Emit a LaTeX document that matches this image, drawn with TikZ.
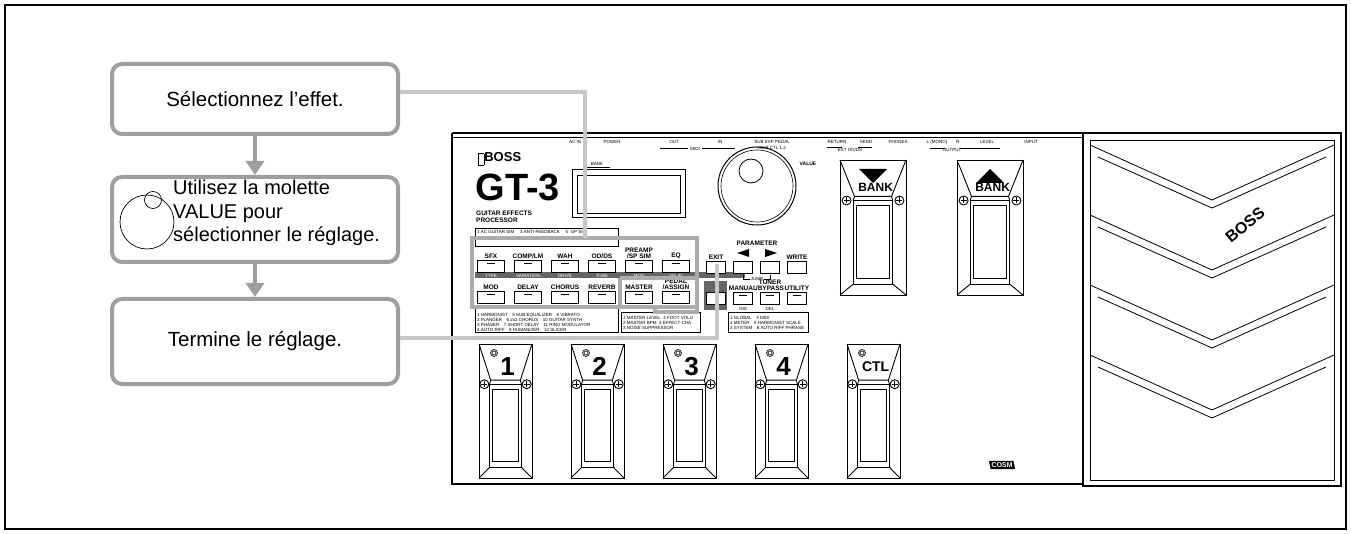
\documentclass[tikz,border=0pt]{standalone}
\usepackage{fontspec}
\usetikzlibrary{arrows.meta}
\setmainfont{Liberation Sans}
\begin{document}
\begin{tikzpicture}[x=1pt,y=-1pt,
  callout/.style={draw=gray!75,line width=4pt,rounded corners=10pt,fill=white,minimum width=286pt,anchor=north west},
  flowarrow/.style={gray!75,line width=4pt,-{Triangle[length=14pt,width=18pt]}},
  lead/.style={gray!45,line width=3.5pt},
  grp/.style={draw=gray!65,line width=4pt},
  btn/.style={draw,line width=1pt,fill=white,minimum width=27pt,minimum height=12pt,inner sep=0pt},
  blab/.style={font=\bfseries\fontsize{6.5}{6.5}\selectfont,align=center,inner sep=0pt},
  tiny/.style={font=\fontsize{4.5}{5}\selectfont,inner sep=0pt},
  dev/.style={line width=0.8pt}]
\useasboundingbox (0,0) rectangle (1351,534);
\draw[line width=2pt] (5,5) rectangle (1346,529);

% ----- device
\draw[line width=1.5pt] (452,133) -- (1083,133);
\draw[line width=0.8pt] (452,137) -- (1083,137);
\draw[line width=1.5pt] (452,133) -- (452,484) -- (1083,484);
\draw[line width=1.2pt] (1083,133) rectangle (1341,486);
\draw[line width=0.8pt] (1090,140) rectangle (1334,480);
\foreach \yy in {145,215,285,355}{
  \draw[dev] (1090,\yy) -- (1212,\yy+55) -- (1334,\yy);
  \draw[dev] (1098,\yy+12) -- (1212,\yy+63) -- (1326,\yy+12);}
\node[rotate=40,font=\bfseries\fontsize{16}{16}\selectfont,fill=white,inner sep=1pt] (bosslogo2) at (1245,225) {BOSS};
% top labels
\foreach \xx/\tt in {575/AC IN,612/POWER,674/OUT,720/IN,772/SUB EXP PEDAL,837/RETURN,866/SEND,898/PHONES,937/L (MONO),958/R,987/LEVEL,1031/INPUT}
  \node[tiny] at (\xx,142) {\tt};
\node[tiny] at (772,148) {/SUB CTL 1,2};
\node[tiny] at (695,149) {MIDI};
\node[tiny] at (850,150) {EXT OD/DS};
\node[tiny] at (952,150) {OUTPUT};
\draw[line width=0.5pt] (660,148)--(688,148) (702,148)--(735,148) (827,147)--(842,147) (858,147)--(872,147) (930,148)--(945,148) (960,148)--(1000,148);
% logo
\node[anchor=west,font=\bfseries\fontsize{13}{13}\selectfont] (boss) at (474,159) {\framebox{\rule{0pt}{5pt}}BOSS};
\node[anchor=west,font=\bfseries\fontsize{38}{38}\selectfont] (gt3) at (472,187) {GT-3};
\node[anchor=north west,align=left,font=\bfseries\fontsize{6.5}{7}\selectfont,inner sep=0pt] (gep) at (476,211) {GUITAR EFFECTS\\PROCESSOR};
\node[tiny] at (597,164) {BANK};
\draw[line width=0.5pt] (585,167)--(610,167);
\draw[line width=1pt] (572,170) rectangle (685,218);
\draw[line width=0.5pt] (577,175) rectangle (680,213);
% value knob
\draw[line width=1pt] (757,186) circle (39);
\draw[line width=0.6pt] (757,186) circle (36);
\draw[line width=0.8pt] (751,171) circle (12);
\node[font=\bfseries\fontsize{5}{5}\selectfont,inner sep=0pt] at (808,164) {VALUE};
% effect list box
\draw[line width=0.5pt] (475,228) rectangle (618,246);
\node[tiny,anchor=west] at (477,232) {1 AC GUITAR SIM \quad 3 ANTI-FEEDBACK \quad 5 \ GP SIM};
% button rows
\fill[gray!80!black] (475,272) rectangle (745,278);
\foreach \i/\la/\lb in {0/SFX/TYPE,1/{COMP/LM}/VARIATION,2/WAH/DRIVE,3/{OD/DS}/TONE,4/{PREAMP\\/SP SIM}/MOD,5/EQ/DELAY}{
  \node[btn] (b1\i) at (491+37*\i,267) {};
  \draw (487+37*\i,263)--(495+37*\i,263);
  \node[blab,anchor=south] at (491+37*\i,259) {\la};
  \node[tiny,text=white] at (491+37*\i,275.5) {\lb};}
\foreach \i/\la in {0/MOD,1/DELAY,2/CHORUS,3/REVERB,4/MASTER,5/{PEDAL\\/ASSIGN}}{
  \node[btn] (b2\i) at (491+37*\i,298) {};
  \draw (487+37*\i,294)--(495+37*\i,294);
  \node[blab,anchor=south] at (491+37*\i,290) {\la};}
\fill[gray!80!black] (704,281) rectangle (727,310);
\node[btn,minimum width=19pt] (exit) at (716,268) {};
\node[blab,anchor=south] at (716,260) {EXIT};
\node[btn,minimum width=19pt] (ex2) at (716,299) {};
\foreach \i/\la in {0/,1/,2/WRITE}{
  \node[btn,minimum width=19pt] (p\i) at (743+27*\i,268) {};
  \node[blab,anchor=south] at (743+27*\i,260) {\la};}
\node[blab] at (757,243) {PARAMETER};
\fill (737,253)--(749,249)--(749,257)--cycle;
\fill (777,253)--(765,249)--(765,257)--cycle;
\draw[line width=0.5pt] (743,275)--(743,279)--(770,279)--(770,275);
\node[tiny,fill=white,inner sep=0.5pt] at (757,279) {JUMP};
\foreach \i/\la/\lc in {0/MANUAL/INS,1/{TUNER\\/BYPASS}/DEL,2/UTILITY/}{
  \node[btn,minimum width=19pt] (m\i) at (743+27*\i,299) {};
  \draw (739+27*\i,295)--(747+27*\i,295);
  \node[blab,anchor=south] at (743+27*\i,291) {\la};
  \node[tiny] at (743+27*\i,309) {\lc};}
% lists
\draw[line width=0.5pt] (475,306) rectangle (618,332) (621,312) rectangle (700,332) (728,312) rectangle (808,332);
\node[tiny,anchor=north west,align=left] at (477,313) {1 HARMONIST\quad 5 SUB EQUALIZER\quad 9 VIBRATO\\2 FLANGER\quad 6 2x2 CHORUS\quad 10 GUITAR SYNTH\\3 PHASER\quad 7 SHORT DELAY\quad 11 RING MODULATOR\\4 AUTO RIFF\quad 8 HUMANIZER\quad 12 SLICER};
\node[tiny,anchor=north west,align=left] at (623,316) {1 MASTER LEVEL\ \ 4 FOOT VOLU\\2 MASTER BPM\ \ 5 EFFECT CHA\\3 NOISE SUPPRESSOR};
\node[tiny,anchor=north west,align=left] at (730,316) {1 GLOBAL\quad 4 MIDI\\2 METER\quad 5 HARMONIST SCALE\\3 SYSTEM\quad 6 AUTO RIFF PHRASE};
% pedals
\newcommand\mypedal[7]{% x y w h label size labely
 \begin{scope}[shift={(#1,#2)},line width=0.9pt]
  \draw (0,0) rectangle (#3,#4);
  \draw (0,0) -- (0.22*#3,0.27*#4) -- (0.78*#3,0.27*#4) -- (#3,0);
  \draw (0.22*#3,0.27*#4)--(0.2*#3,0.3*#4) (0.78*#3,0.27*#4)--(0.8*#3,0.3*#4);
  \draw (0.2*#3,0.3*#4) rectangle (0.8*#3,0.92*#4);
  \draw (0.25*#3,0.34*#4) rectangle (0.75*#3,0.88*#4);
  \draw (0.2*#3,0.92*#4)--(0,#4) (0.8*#3,0.92*#4)--(#3,#4);
  \foreach \sx in {0.1,0.9}{\draw[fill=white] (\sx*#3,0.3*#4) circle (4.5);
    \draw[line width=0.6pt] (\sx*#3-3,0.3*#4)--(\sx*#3+3,0.3*#4) (\sx*#3,0.3*#4-3)--(\sx*#3,0.3*#4+3);}
  \node[font=\bfseries\fontsize{#6}{#6}\selectfont,inner sep=0pt] at (0.54*#3,#7*#4) {#5};
 \end{scope}}
\mypedal{840}{160}{66}{135}{BANK}{12}{0.2}
\fill (859,169)--(887,169)--(873,183)--cycle;
\mypedal{957}{160}{66}{135}{BANK}{12}{0.2}
\fill (976,183)--(1004,183)--(990,169)--cycle;
\foreach \k/\lab in {0/1,1/2,2/3,3/4}{
  \mypedal{479+92*\k}{344}{53}{134}{\lab}{26}{0.17}
  \draw[line width=0.6pt] (479+92*\k+15,344+9) circle (3.5) circle (2);}
\mypedal{847}{344}{53}{134}{CTL}{14}{0.17}
\draw[line width=0.6pt] (862,353) circle (3.5) circle (2);
\node[draw,fill=black,text=white,font=\bfseries\itshape\fontsize{7}{7}\selectfont,inner sep=1.5pt,xslant=-0.2] (cosm) at (1002,465) {COSM};

% ----- groups
\draw[grp] (472,238) rectangle (697,307);
\draw[grp] (620,278) -- (697,278) -- (697,312) -- (655,312) -- (655,307);
\draw[grp] (620,278) -- (620,307);

% ----- callouts
\node[callout,minimum height=70pt,font=\fontsize{20.5}{20.5}\selectfont] (c1) at (110,62) {Sélectionnez l'effet.};
\node[callout,minimum height=85pt] (c2) at (110,175) {};
\draw[line width=0.7pt] (147,222) circle (27);
\draw[line width=0.7pt] (153,200) circle (8.5);
\node[anchor=north west,align=left,font=\fontsize{20}{23.5}\selectfont,inner sep=0pt] (c2t) at (173,180) {Utilisez la molette\\VALUE pour\\sélectionner le réglage.};
\node[callout,minimum height=85pt,font=\fontsize{20.5}{20.5}\selectfont] (c3) at (110,297) {Termine le réglage.};
\draw[flowarrow] (c1.south) -- (c2.north);
\draw[flowarrow] (c2.south) -- (c3.north);
\coordinate (k1) at (585,238);
\coordinate (k3) at (717,264);
\draw[lead] (c1.east |- 0,92) -- (585,92) -- (k1);
\draw[lead] (c3.east |- 0,338) -- (717,338) -- (k3);
\end{tikzpicture}
\end{document}
